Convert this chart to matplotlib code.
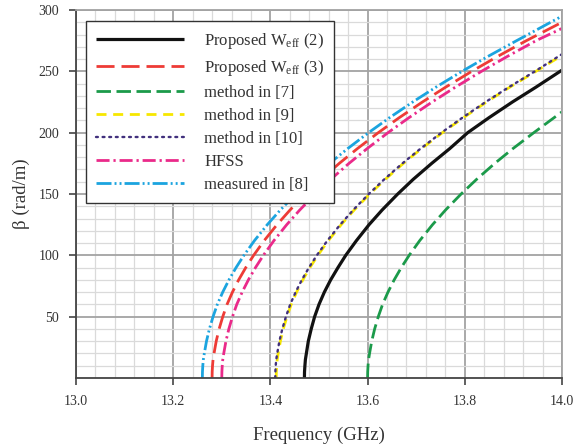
import matplotlib
matplotlib.use("Agg")
import matplotlib.pyplot as plt
from matplotlib.ticker import MultipleLocator, FixedLocator

plt.rcParams['font.family'] = ['Liberation Serif', 'DejaVu Serif']
plt.rcParams['mathtext.fontset'] = 'custom'
plt.rcParams['mathtext.rm'] = 'Liberation Serif'
plt.rcParams['mathtext.it'] = 'Liberation Serif:italic'

# ---- data ----
labels = ["Proposed W$_{\\mathrm{eff}}$ (2)", "Proposed W$_{\\mathrm{eff}}$ (3)",
          "method in [7]", "method in [9]", "method in [10]", "HFSS", "measured in [8]"]

f_black = [13.470, 13.4702, 13.471, 13.472, 13.474, 13.478, 13.484, 13.491, 13.500, 13.511, 13.524,
           13.539, 13.555, 13.577, 13.603, 13.630, 13.662, 13.694, 13.732, 13.769, 13.806, 13.849,
           13.898, 13.946, 14.000]
b_black = [0, 5, 10, 15, 20, 30, 40, 50, 60, 70, 80, 90, 100, 112, 125, 137, 150, 162, 175, 187,
           200, 212, 225, 237, 251]

f_red = [13.280, 13.2802, 13.2809, 13.282, 13.284, 13.2885, 13.2945, 13.302, 13.3108, 13.3219,
         13.3347, 13.3493, 13.3655, 13.3872, 13.4136, 13.4405, 13.4724, 13.5044, 13.5418, 13.579,
         13.622, 13.6643, 13.7128, 13.7602, 13.8143, 13.8669, 13.9266, 14.000]
b_red = [0, 5, 10, 15, 20, 30, 40, 50, 60, 70, 80, 90, 100, 112, 125, 137, 150, 162, 175, 187,
         200, 212, 225, 237, 250, 262, 275, 290]

f_green = [13.600, 13.6002, 13.6009, 13.602, 13.604, 13.6085, 13.6145, 13.622, 13.6308, 13.6419,
           13.6547, 13.6693, 13.6855, 13.7072, 13.7336, 13.7605, 13.7924, 13.8244, 13.8618, 13.899,
           13.942, 14.000]
b_green = [0, 5, 10, 15, 20, 30, 40, 50, 60, 70, 80, 90, 100, 112, 125, 137, 150, 162, 175, 187,
           200, 217]

f_yellow = [13.412, 13.4122, 13.4129, 13.414, 13.416, 13.4205, 13.4265, 13.434, 13.4428, 13.4539,
            13.4667, 13.4813, 13.4975, 13.5192, 13.5456, 13.5725, 13.6044, 13.6364, 13.6738, 13.711,
            13.754, 13.7963, 13.8448, 13.8922, 13.9463, 14.000]
b_yellow = [0, 5, 10, 15, 20, 30, 40, 50, 60, 70, 80, 90, 100, 112, 125, 137, 150, 162, 175, 187,
            200, 212, 225, 237, 250, 263]

f_purple = [13.410, 13.4102, 13.4109, 13.412, 13.414, 13.4185, 13.4245, 13.432, 13.4408, 13.4519,
            13.4647, 13.4793, 13.4955, 13.5172, 13.5436, 13.5705, 13.6024, 13.6344, 13.6718, 13.709,
            13.752, 13.7943, 13.8428, 13.8902, 13.9443, 14.000]
b_purple = [0, 5, 10, 15, 20, 30, 40, 50, 60, 70, 80, 90, 100, 112, 125, 137, 150, 162, 175, 187,
            200, 212, 225, 237, 250, 264]

f_magenta = [13.300, 13.3002, 13.3009, 13.302, 13.304, 13.3085, 13.3145, 13.322, 13.3308, 13.3419,
             13.3547, 13.3693, 13.3855, 13.4072, 13.4336, 13.4605, 13.4924, 13.5244, 13.5618, 13.599,
             13.642, 13.6843, 13.7328, 13.7802, 13.8343, 13.8869, 13.9466, 14.000]
b_magenta = [0, 5, 10, 15, 20, 30, 40, 50, 60, 70, 80, 90, 100, 112, 125, 137, 150, 162, 175, 187,
             200, 212, 225, 237, 250, 262, 275, 285]

f_cyan = [13.260, 13.2602, 13.2609, 13.262, 13.264, 13.2685, 13.2745, 13.282, 13.2908, 13.3019,
          13.3147, 13.3293, 13.3455, 13.3672, 13.3936, 13.4205, 13.4524, 13.4844, 13.5218, 13.559,
          13.602, 13.6443, 13.6928, 13.7402, 13.7943, 13.8469, 13.9066, 14.000]
b_cyan = [0, 5, 10, 15, 20, 30, 40, 50, 60, 70, 80, 90, 100, 112, 125, 137, 150, 162, 175, 187,
          200, 212, 225, 237, 250, 262, 275, 295]

x_ticks = [13.0, 13.2, 13.4, 13.6, 13.8, 14.0]
y_ticks = [50, 100, 150, 200, 250, 300]

# ---- figure ----
fig = plt.figure(figsize=(5.88, 4.45), dpi=100)
ax = fig.add_axes([76 / 588, 1 - 378 / 445, 486 / 588, 368 / 445])

ax.plot(f_black, b_black, color='#111111', lw=2.3, solid_capstyle='butt', label=labels[0])
ax.plot(f_red, b_red, color='#ee3b36', lw=2.0, dashes=(6.5, 2.5), label=labels[1])
ax.plot(f_green, b_green, color='#1b9a4a', lw=2.0, dashes=(5.2, 2.0), label=labels[2])
ax.plot(f_yellow, b_yellow, color='#f7e700', lw=2.0, dashes=(3.6, 2.4), label=labels[3])
ax.plot(f_purple, b_purple, color='#41307d', lw=1.7, dashes=(0.8, 2.0), dash_capstyle='round', label=labels[4])
ax.plot(f_magenta, b_magenta, color='#ea2a8a', lw=2.0, dashes=(4.7, 1.4, 0.8, 1.4), label=labels[5])
ax.plot(f_cyan, b_cyan, color='#1ba4df', lw=2.0, dashes=(5.4, 1.1, 0.7, 1.1, 0.7, 1.1), label=labels[6])

ax.set_xlim(13.0, 14.0)
ax.set_ylim(0, 300)
ax.xaxis.set_major_locator(FixedLocator(x_ticks))
ax.yaxis.set_major_locator(FixedLocator(y_ticks))
ax.xaxis.set_minor_locator(MultipleLocator(0.04))
ax.yaxis.set_minor_locator(MultipleLocator(10))
ax.set_xticklabels([f"{v:.1f}" for v in x_ticks])
ax.set_yticklabels([str(v) for v in y_ticks])

ax.set_axisbelow(True)
ax.grid(which='major', color='#a3a3a3', lw=1.3)
ax.grid(which='minor', color='#dadada', lw=0.9)
ax.tick_params(which='major', direction='out', length=5, width=1.2, color='#444444',
               labelsize=10, labelcolor='#333333', pad=7)
ax.tick_params(which='minor', length=0)
for s in ['left', 'bottom']:
    ax.spines[s].set_color('#444444')
    ax.spines[s].set_linewidth(1.3)
for s in ['top', 'right']:
    ax.spines[s].set_color('#a3a3a3')
    ax.spines[s].set_linewidth(1.3)

ax.set_xlabel("Frequency (GHz)", fontsize=13.5, color='#333333', labelpad=14)
ax.set_ylabel("β (rad/m)", fontsize=13.5, color='#333333', labelpad=6)

leg = ax.legend(loc='upper left', bbox_to_anchor=(0.0206, 0.971), borderaxespad=0,
                fontsize=12, frameon=True, fancybox=False, framealpha=1,
                edgecolor='#333333', handlelength=5.3, handletextpad=1.2,
                labelspacing=0.42, borderpad=0.6)
leg.get_frame().set_linewidth(1.0)
for t in leg.get_texts():
    t.set_color('#333333')

fig.savefig("out.png", dpi=100)
